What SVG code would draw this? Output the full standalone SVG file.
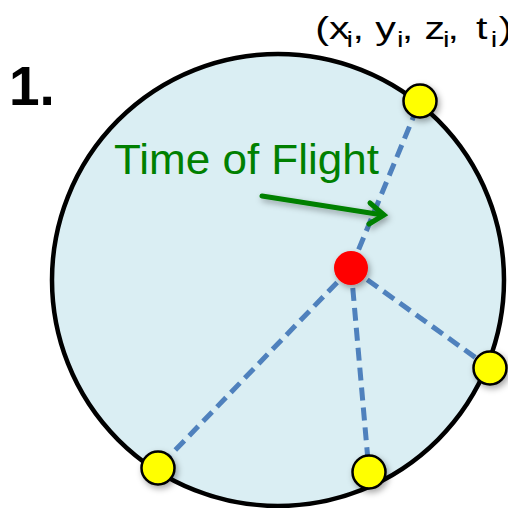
<svg xmlns="http://www.w3.org/2000/svg" width="508" height="508" viewBox="0 0 508 508">
<defs>
<filter id="sh" x="-50%" y="-50%" width="200%" height="200%"><feDropShadow dx="2" dy="3" stdDeviation="3" flood-color="#000" flood-opacity="0.35"/></filter>
<style>
.dash{stroke:#4F81BD;stroke-width:5;stroke-dasharray:13 7;fill:none}
.det{fill:#FFFF00;stroke:#000;stroke-width:2.5}
.t{font-family:"Liberation Sans","Open Sans",sans-serif}
.sub{font-size:22px}
</style>
</defs>
<rect width="508" height="508" fill="#fff"/>
<g id="sphere"><circle cx="278" cy="280" r="226" fill="#DAEEF3" stroke="#000" stroke-width="4.5"/></g>
<g id="connectors">
<line class="dash" x1="351" y1="268" x2="420" y2="101"/>
<line class="dash" x1="351" y1="268" x2="490" y2="368"/>
<line class="dash" x1="351" y1="268" x2="158" y2="468"/>
<line class="dash" x1="351" y1="268" x2="369" y2="472"/>
<g id="tof-arrow" stroke="#008000" stroke-width="5" fill="none" stroke-linecap="round" filter="url(#sh)">
<line x1="262" y1="196" x2="383" y2="215"/>
<polyline points="370,203 384,215 369,224" stroke-linejoin="miter"/>
</g>
</g>
<g id="source"><circle cx="351" cy="268" r="17" fill="#FF0000" filter="url(#sh)"/></g>
<g id="d1"><circle class="det" cx="420" cy="101" r="16.5" filter="url(#sh)"/></g>
<g id="d2"><circle class="det" cx="490" cy="368" r="16.5" filter="url(#sh)"/></g>
<g id="d3"><circle class="det" cx="158" cy="468" r="16.5" filter="url(#sh)"/></g>
<g id="d4"><circle class="det" cx="369" cy="472" r="16.5" filter="url(#sh)"/></g>
<text class="t" x="114" y="174" font-size="42" fill="#008000" textLength="265" lengthAdjust="spacingAndGlyphs">Time of Flight</text>
<text class="t" x="9" y="105" font-size="55" font-weight="bold" fill="#000">1.</text>
<text class="t" transform="scale(1.33 1)" y="39" font-size="31" fill="#000"><tspan x="237">(x</tspan><tspan class="sub" x="260.5" y="47">i</tspan><tspan x="265" y="39">, y</tspan><tspan class="sub" x="298.5" y="47">i</tspan><tspan x="302" y="39">, z</tspan><tspan class="sub" x="333" y="47">i</tspan><tspan x="336.5" y="39">,</tspan><tspan x="358">t</tspan><tspan class="sub" x="369" y="47">i</tspan><tspan x="375" y="39">)</tspan></text>
</svg>
